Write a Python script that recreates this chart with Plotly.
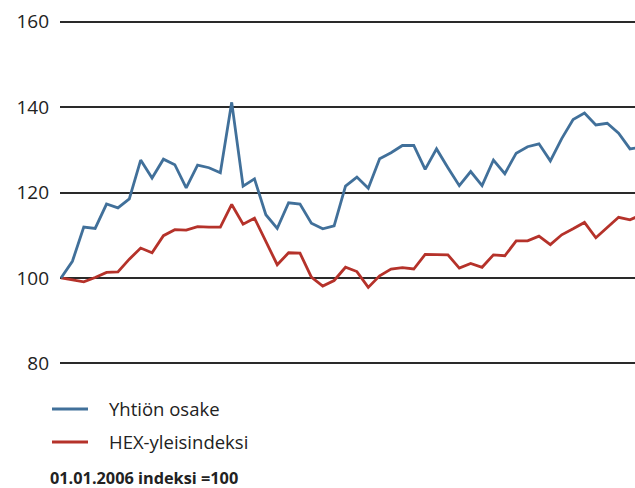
import plotly.graph_objects as go

weeks = list(range(52))

yhtion_osake = [100, 103.9, 111.9, 111.6, 117.3, 116.4, 118.5, 127.6, 123.4, 127.8,
                126.5, 121.1, 126.4, 125.8, 124.6, 141.1, 121.5, 123.2, 114.8, 111.6,
                117.6, 117.3, 112.8, 111.5, 112.2, 121.5, 123.6, 121.0, 127.9, 129.3,
                131.0, 131.0, 125.4, 130.2, 125.8, 121.6, 124.9, 121.6, 127.6, 124.4,
                129.2, 130.7, 131.4, 127.4, 132.6, 137.1, 138.6, 135.8, 136.2, 133.9,
                130.2, 130.6]

hex_yleisindeksi = [100, 99.6, 99.1, 100.1, 101.3, 101.4, 104.4, 107.0, 105.9, 109.9,
                    111.3, 111.2, 112.0, 111.9, 111.9, 117.2, 112.6, 114.0, 108.6, 103.1,
                    105.9, 105.8, 100.2, 98.1, 99.4, 102.5, 101.5, 97.8, 100.5, 102.1,
                    102.4, 102.1, 105.5, 105.5, 105.4, 102.3, 103.4, 102.5, 105.4, 105.2,
                    108.7, 108.7, 109.8, 107.8, 110.1, 111.5, 113.0, 109.4, 111.9, 114.2,
                    113.6, 114.8]

y_ticks = [80, 100, 120, 140, 160]
series_names = ["Yhtiön osake", "HEX-yleisindeksi"]
footnote = "01.01.2006 indeksi =100"

BLUE = "#41709a"
RED = "#b5322a"
FONT = "Open Sans"

fig = go.Figure()
fig.add_trace(go.Scatter(x=weeks, y=hex_yleisindeksi, mode="lines",
                         line=dict(color=RED, width=2.8), name=series_names[1]))
fig.add_trace(go.Scatter(x=weeks, y=yhtion_osake, mode="lines",
                         line=dict(color=BLUE, width=2.8), name=series_names[0]))

fig.update_layout(
    width=635, height=488,
    margin=dict(l=60, r=0, t=19, b=122),
    plot_bgcolor="white", paper_bgcolor="white",
    showlegend=False,
    font=dict(family=FONT, size=18, color="#222222"),
    xaxis=dict(range=[-0.09, 50.44], showgrid=False, zeroline=False,
               showticklabels=False, showline=False, ticks=""),
    yaxis=dict(range=[79.4, 160.6], tickvals=y_ticks, showgrid=True,
               gridcolor="#2a2a2a", gridwidth=1.5, zeroline=False,
               showline=False, ticks="", ticklabelstandoff=10,
               tickfont=dict(family=FONT, size=19, color="#222222")),
)

# legend drawn below the plot
legend_rows = [(series_names[0], BLUE, -0.1239), (series_names[1], RED, -0.219)]
for name, col, yp in legend_rows:
    fig.add_shape(type="line", xref="paper", yref="paper",
                  x0=-0.0139, x1=0.0487, y0=yp, y1=yp,
                  line=dict(color=col, width=2.8))
    fig.add_annotation(text=name, xref="paper", yref="paper", x=0.0817, y=yp,
                       xanchor="left", yanchor="middle", showarrow=False,
                       font=dict(family=FONT, size=18.5, color="#222222"))

fig.add_annotation(text="<b>" + footnote + "</b>", xref="paper", yref="paper",
                   x=-0.0191, y=-0.3228, xanchor="left", yanchor="middle",
                   showarrow=False, borderpad=0,
                   font=dict(family=FONT, size=16.3, color="#222222"))

fig.write_html("out.html", config={"displayModeBar": False},
               post_script="document.body.style.margin='0px';")
